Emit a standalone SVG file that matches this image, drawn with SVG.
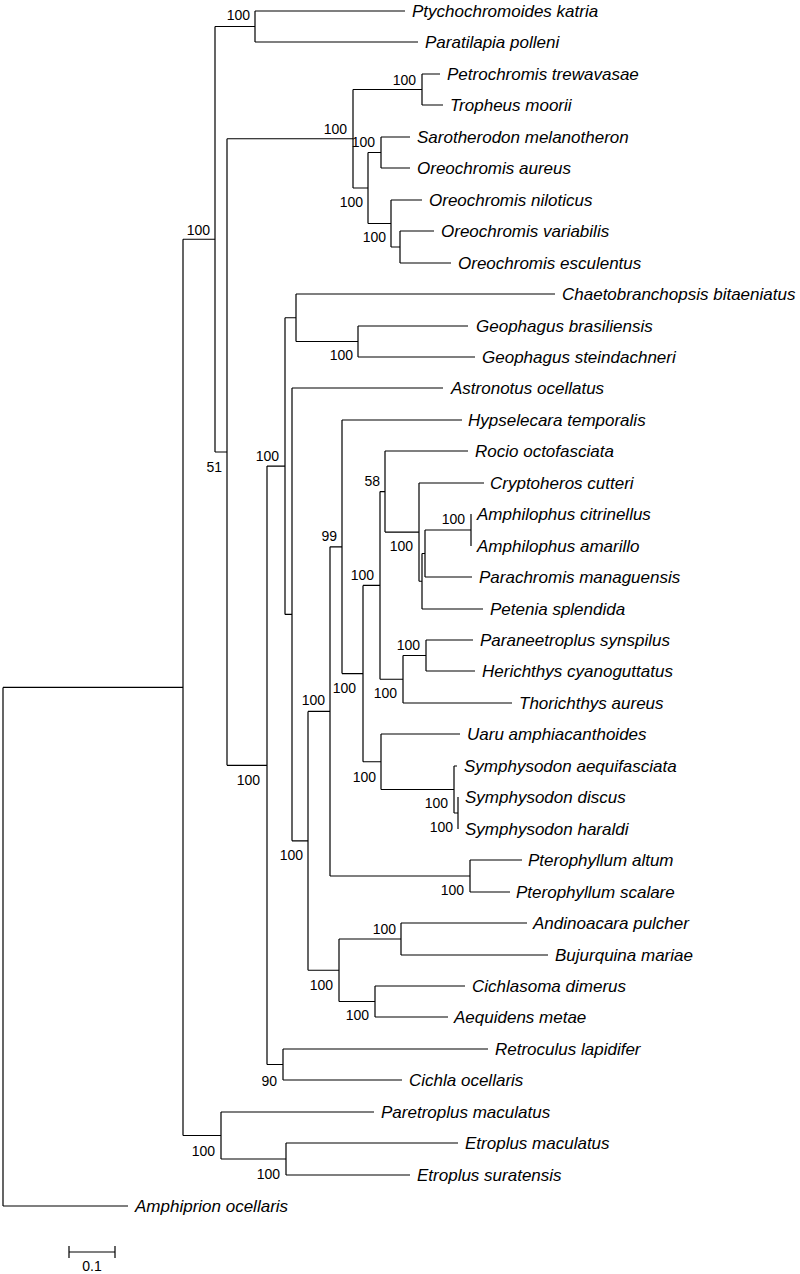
<svg xmlns="http://www.w3.org/2000/svg" width="800" height="1274" viewBox="0 0 800 1274">
<style>
.br{fill:none;stroke:#000;stroke-width:1.2}
.lf{font-family:"Liberation Sans",Arial,sans-serif;font-style:italic;font-size:17px;fill:#000}
.bs{font-family:"Liberation Sans",Arial,sans-serif;font-size:14px;fill:#000;text-anchor:end}
.sc{font-family:"Liberation Sans",Arial,sans-serif;font-size:14px;fill:#000;text-anchor:middle}
</style>
<rect width="800" height="1274" fill="#fff"/>
<g id="branches" class="br">
<path d="M3 687.4V1206M3 687.4H183M3 1206H128"/>
<path d="M183 239.25V1135.5M183 239.25H215M183 1135.5H221"/>
<path d="M215 26.5V452M215 26.5H255M215 452H227"/>
<path d="M255 11V42M255 11H405M255 42H418"/>
<path d="M227 138.75V765.3M227 138.75H353M227 765.3H267"/>
<path d="M353 89.5V188M353 89.5H422M353 188H368"/>
<path d="M422 74V105M422 74H440M422 105H443"/>
<path d="M368 152.5V223.5M368 152.5H381M368 223.5H391"/>
<path d="M381 137V168M381 137H410M381 168H410"/>
<path d="M391 200V247M391 200H422M391 247H400"/>
<path d="M400 231V263M400 231H434M400 263H451"/>
<path d="M267 466.1V1064.5M267 466.1H285M267 1064.5H283"/>
<path d="M285 317.75V614.4M285 317.75H296M285 614.4H292"/>
<path d="M296 294V341.5M296 294H555M296 341.5H358"/>
<path d="M358 326V357M358 326H468M358 357H475"/>
<path d="M292 388V840.8M292 388H443M292 840.8H308"/>
<path d="M308 711.4V970.25M308 711.4H330M308 970.25H339"/>
<path d="M330 546.8V876M330 546.8H342M330 876H470"/>
<path d="M342 420V673.6M342 420H462M342 673.6H363"/>
<path d="M363 585.4V761.75M363 585.4H380M363 761.75H381"/>
<path d="M380 491.6V679.25M380 491.6H385M380 679.25H403"/>
<path d="M385 451V532.1M385 451H468M385 532.1H419"/>
<path d="M419 483V581.25M419 483H484M419 581.25H422"/>
<path d="M422 553.5V609M422 553.5H425M422 609H483"/>
<path d="M425 530V577M425 530H471M425 577H472"/>
<path d="M471 514V546"/>
<path d="M403 655.5V703M403 655.5H426M403 703H512"/>
<path d="M426 640V671M426 640H473M426 671H475"/>
<path d="M381 734V789.5M381 734H460M381 789.5H454"/>
<path d="M454 766V813M454 766H457M454 813H458"/>
<path d="M458 797V829"/>
<path d="M470 860V892M470 860H522M470 892H510"/>
<path d="M339 939V1001.5M339 939H401M339 1001.5H375"/>
<path d="M401 923V955M401 923H527M401 955H548"/>
<path d="M375 986V1017M375 986H465M375 1017H448"/>
<path d="M283 1049V1080M283 1049H488M283 1080H402"/>
<path d="M221 1112V1159M221 1112H374M221 1159H286"/>
<path d="M286 1143V1175M286 1143H458M286 1175H410"/>
</g>
<g id="leaves">
<g id="leaf-ptychochromoides"><text class="lf" x="412" y="17">Ptychochromoides katria</text></g>
<g id="leaf-paratilapia"><text class="lf" x="425" y="48">Paratilapia polleni</text></g>
<g id="leaf-petrochromis"><text class="lf" x="447" y="80">Petrochromis trewavasae</text></g>
<g id="leaf-tropheus"><text class="lf" x="450" y="111">Tropheus moorii</text></g>
<g id="leaf-sarotherodon"><text class="lf" x="417" y="143">Sarotherodon melanotheron</text></g>
<g id="leaf-oreochromis-aureus"><text class="lf" x="417" y="174">Oreochromis aureus</text></g>
<g id="leaf-oreochromis-niloticus"><text class="lf" x="429" y="206">Oreochromis niloticus</text></g>
<g id="leaf-oreochromis-variabilis"><text class="lf" x="441" y="237">Oreochromis variabilis</text></g>
<g id="leaf-oreochromis-esculentus"><text class="lf" x="458" y="269">Oreochromis esculentus</text></g>
<g id="leaf-chaetobranchopsis"><text class="lf" x="562" y="300">Chaetobranchopsis bitaeniatus</text></g>
<g id="leaf-geophagus-brasiliensis"><text class="lf" x="476" y="332">Geophagus brasiliensis</text></g>
<g id="leaf-geophagus-steindachneri"><text class="lf" x="482" y="363">Geophagus steindachneri</text></g>
<g id="leaf-astronotus"><text class="lf" x="451" y="394">Astronotus ocellatus</text></g>
<g id="leaf-hypselecara"><text class="lf" x="468" y="426">Hypselecara temporalis</text></g>
<g id="leaf-rocio"><text class="lf" x="475" y="457">Rocio octofasciata</text></g>
<g id="leaf-cryptoheros"><text class="lf" x="490" y="489">Cryptoheros cutteri</text></g>
<g id="leaf-amphilophus-citrinellus"><text class="lf" x="477" y="520">Amphilophus citrinellus</text></g>
<g id="leaf-amphilophus-amarillo"><text class="lf" x="477" y="552">Amphilophus amarillo</text></g>
<g id="leaf-parachromis"><text class="lf" x="479" y="583">Parachromis managuensis</text></g>
<g id="leaf-petenia"><text class="lf" x="490" y="615">Petenia splendida</text></g>
<g id="leaf-paraneetroplus"><text class="lf" x="480" y="646">Paraneetroplus synspilus</text></g>
<g id="leaf-herichthys"><text class="lf" x="482" y="677">Herichthys cyanoguttatus</text></g>
<g id="leaf-thorichthys"><text class="lf" x="519" y="709">Thorichthys aureus</text></g>
<g id="leaf-uaru"><text class="lf" x="467" y="740">Uaru amphiacanthoides</text></g>
<g id="leaf-symphysodon-aequifasciata"><text class="lf" x="464" y="772">Symphysodon aequifasciata</text></g>
<g id="leaf-symphysodon-discus"><text class="lf" x="465" y="803">Symphysodon discus</text></g>
<g id="leaf-symphysodon-haraldi"><text class="lf" x="465" y="835">Symphysodon haraldi</text></g>
<g id="leaf-pterophyllum-altum"><text class="lf" x="528" y="866">Pterophyllum altum</text></g>
<g id="leaf-pterophyllum-scalare"><text class="lf" x="516" y="898">Pterophyllum scalare</text></g>
<g id="leaf-andinoacara"><text class="lf" x="533" y="929">Andinoacara pulcher</text></g>
<g id="leaf-bujurquina"><text class="lf" x="555" y="961">Bujurquina mariae</text></g>
<g id="leaf-cichlasoma"><text class="lf" x="472" y="992">Cichlasoma dimerus</text></g>
<g id="leaf-aequidens"><text class="lf" x="454" y="1023">Aequidens metae</text></g>
<g id="leaf-retroculus"><text class="lf" x="495" y="1055">Retroculus lapidifer</text></g>
<g id="leaf-cichla"><text class="lf" x="409" y="1086">Cichla ocellaris</text></g>
<g id="leaf-paretroplus"><text class="lf" x="381" y="1118">Paretroplus maculatus</text></g>
<g id="leaf-etroplus-maculatus"><text class="lf" x="465" y="1149">Etroplus maculatus</text></g>
<g id="leaf-etroplus-suratensis"><text class="lf" x="417" y="1181">Etroplus suratensis</text></g>
<g id="leaf-amphiprion"><text class="lf" x="135" y="1212">Amphiprion ocellaris</text></g>
</g>
<g id="bootstrap">
<text class="bs" x="250" y="20">100</text>
<text class="bs" x="210" y="235">100</text>
<text class="bs" x="222" y="472">51</text>
<text class="bs" x="347" y="134">100</text>
<text class="bs" x="416" y="85">100</text>
<text class="bs" x="363" y="207">100</text>
<text class="bs" x="375" y="147">100</text>
<text class="bs" x="386" y="242">100</text>
<text class="bs" x="353" y="360">100</text>
<text class="bs" x="279" y="461">100</text>
<text class="bs" x="380" y="486">58</text>
<text class="bs" x="465" y="524">100</text>
<text class="bs" x="413" y="551">100</text>
<text class="bs" x="374" y="580">100</text>
<text class="bs" x="337" y="541">99</text>
<text class="bs" x="420" y="650">100</text>
<text class="bs" x="397" y="698">100</text>
<text class="bs" x="356" y="693">100</text>
<text class="bs" x="325" y="705">100</text>
<text class="bs" x="376" y="782">100</text>
<text class="bs" x="448" y="808">100</text>
<text class="bs" x="453" y="832">100</text>
<text class="bs" x="260" y="785">100</text>
<text class="bs" x="303" y="860">100</text>
<text class="bs" x="464" y="895">100</text>
<text class="bs" x="396" y="934">100</text>
<text class="bs" x="333" y="990">100</text>
<text class="bs" x="369" y="1020">100</text>
<text class="bs" x="277" y="1086">90</text>
<text class="bs" x="215" y="1156">100</text>
<text class="bs" x="280" y="1179">100</text>
</g>
<g id="scale-bar">
<path class="br" d="M69 1252H115M69 1246V1258M115 1246V1258"/>
<text class="sc" x="92" y="1271">0.1</text>
</g>
</svg>
